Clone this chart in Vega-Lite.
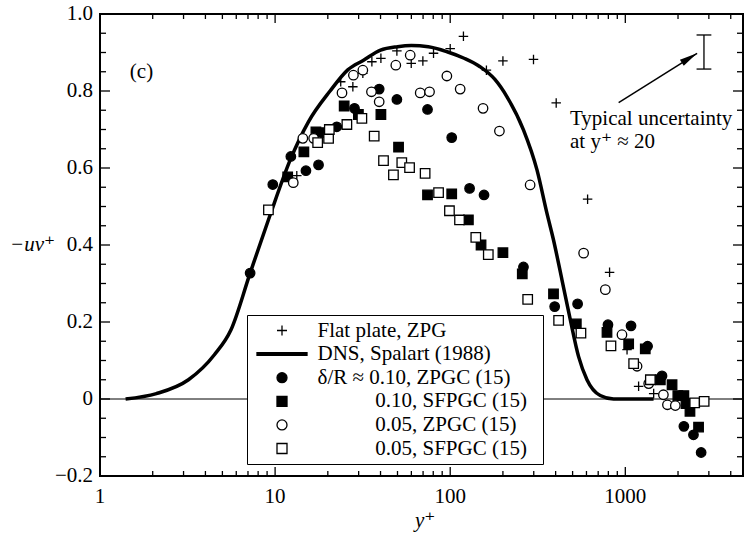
{
  "$schema": "https://vega.github.io/schema/vega-lite/v6.json",
  "width": 643,
  "height": 462,
  "autosize": "none",
  "padding": {"left": 100, "top": 14, "right": 1, "bottom": 60},
  "config": {
    "view": {"stroke": "black", "strokeWidth": 2},
    "font": "Liberation Serif, Times New Roman, DejaVu Serif, serif",
    "axis": {"grid": false, "ticks": false, "domain": false},
    "legend": {"labelFont": "Liberation Serif, Times New Roman, DejaVu Serif, serif", "labelFontSize": 21, "labelColor": "black"}
  },
  "datasets": {
    "dns": [
      {"x": 1.4, "y": 0.0}, {"x": 2.1, "y": 0.014}, {"x": 3.2, "y": 0.05}, {"x": 4.5, "y": 0.115},
      {"x": 5.6, "y": 0.18}, {"x": 7.2, "y": 0.327}, {"x": 9.3, "y": 0.474}, {"x": 12.2, "y": 0.621},
      {"x": 15.5, "y": 0.72}, {"x": 20.6, "y": 0.8}, {"x": 26, "y": 0.855}, {"x": 32, "y": 0.88},
      {"x": 40, "y": 0.906}, {"x": 50, "y": 0.915}, {"x": 60, "y": 0.918}, {"x": 75, "y": 0.915},
      {"x": 96, "y": 0.902}, {"x": 120, "y": 0.885}, {"x": 148, "y": 0.863}, {"x": 180, "y": 0.83},
      {"x": 211, "y": 0.785}, {"x": 262, "y": 0.699}, {"x": 313, "y": 0.595}, {"x": 357, "y": 0.482},
      {"x": 389, "y": 0.413}, {"x": 435, "y": 0.309}, {"x": 485, "y": 0.206}, {"x": 541, "y": 0.11},
      {"x": 604, "y": 0.05}, {"x": 719, "y": 0.009}, {"x": 857, "y": 0.0}, {"x": 1450, "y": 0.0}
    ],
    "pts": [
      {"s": "a", "x": 13.3, "y": 0.58}, {"s": "a", "x": 23.7, "y": 0.824}, {"s": "a", "x": 27.8, "y": 0.811},
      {"s": "a", "x": 31.7, "y": 0.846}, {"s": "a", "x": 35.7, "y": 0.876}, {"s": "a", "x": 40.2, "y": 0.885},
      {"s": "a", "x": 49.6, "y": 0.904}, {"s": "a", "x": 59.9, "y": 0.872}, {"s": "a", "x": 69.8, "y": 0.878},
      {"s": "a", "x": 80.3, "y": 0.898}, {"s": "a", "x": 100, "y": 0.91}, {"s": "a", "x": 119, "y": 0.942},
      {"s": "a", "x": 161, "y": 0.854}, {"s": "a", "x": 200, "y": 0.878}, {"s": "a", "x": 299, "y": 0.882},
      {"s": "a", "x": 403, "y": 0.769}, {"s": "a", "x": 609, "y": 0.519}, {"s": "a", "x": 813, "y": 0.329},
      {"s": "a", "x": 1023, "y": 0.128}, {"s": "a", "x": 1191, "y": 0.033}, {"s": "a", "x": 1452, "y": 0.014},

      {"s": "c", "x": 7.2, "y": 0.327}, {"s": "c", "x": 9.7, "y": 0.557}, {"s": "c", "x": 12.3, "y": 0.63},
      {"s": "c", "x": 15.0, "y": 0.593}, {"s": "c", "x": 17.7, "y": 0.608}, {"s": "c", "x": 22.5, "y": 0.707},
      {"s": "c", "x": 28.4, "y": 0.755}, {"s": "c", "x": 39.3, "y": 0.805}, {"s": "c", "x": 49.6, "y": 0.778},
      {"s": "c", "x": 74.2, "y": 0.752}, {"s": "c", "x": 102, "y": 0.679}, {"s": "c", "x": 129, "y": 0.547},
      {"s": "c", "x": 156, "y": 0.53}, {"s": "c", "x": 262, "y": 0.343}, {"s": "c", "x": 395, "y": 0.24},
      {"s": "c", "x": 534, "y": 0.247}, {"s": "c", "x": 796, "y": 0.193}, {"s": "c", "x": 1078, "y": 0.19},
      {"s": "c", "x": 1340, "y": 0.137}, {"s": "c", "x": 1620, "y": 0.06}, {"s": "c", "x": 2160, "y": -0.071},
      {"s": "c", "x": 2450, "y": -0.093}, {"s": "c", "x": 2710, "y": -0.139},

      {"s": "d", "x": 11.8, "y": 0.577}, {"s": "d", "x": 14.6, "y": 0.642}, {"s": "d", "x": 17.1, "y": 0.694},
      {"s": "d", "x": 19.3, "y": 0.692}, {"s": "d", "x": 24.8, "y": 0.761}, {"s": "d", "x": 29.9, "y": 0.739},
      {"s": "d", "x": 40.2, "y": 0.739}, {"s": "d", "x": 50.7, "y": 0.654}, {"s": "d", "x": 74.2, "y": 0.53},
      {"s": "d", "x": 102, "y": 0.533}, {"s": "d", "x": 127, "y": 0.465}, {"s": "d", "x": 150, "y": 0.4},
      {"s": "d", "x": 200, "y": 0.38}, {"s": "d", "x": 258, "y": 0.325}, {"s": "d", "x": 389, "y": 0.273},
      {"s": "d", "x": 525, "y": 0.195}, {"s": "d", "x": 786, "y": 0.173}, {"s": "d", "x": 1045, "y": 0.143},
      {"s": "d", "x": 1300, "y": 0.13}, {"s": "d", "x": 1585, "y": 0.05}, {"s": "d", "x": 1849, "y": 0.037},
      {"s": "d", "x": 1995, "y": 0.009}, {"s": "d", "x": 2160, "y": 0.009}, {"s": "d", "x": 2220, "y": -0.012},
      {"s": "d", "x": 2340, "y": -0.032}, {"s": "d", "x": 2620, "y": -0.073},

      {"s": "e", "x": 12.7, "y": 0.562}, {"s": "e", "x": 14.4, "y": 0.677}, {"s": "e", "x": 16.6, "y": 0.677},
      {"s": "e", "x": 24.1, "y": 0.795}, {"s": "e", "x": 28.0, "y": 0.841}, {"s": "e", "x": 31.7, "y": 0.854},
      {"s": "e", "x": 35.5, "y": 0.798}, {"s": "e", "x": 39.3, "y": 0.772}, {"s": "e", "x": 48.9, "y": 0.867},
      {"s": "e", "x": 59.1, "y": 0.893}, {"s": "e", "x": 67.4, "y": 0.795}, {"s": "e", "x": 76.2, "y": 0.798},
      {"s": "e", "x": 95.7, "y": 0.839}, {"s": "e", "x": 114, "y": 0.805}, {"s": "e", "x": 154, "y": 0.755},
      {"s": "e", "x": 191, "y": 0.696}, {"s": "e", "x": 286, "y": 0.556}, {"s": "e", "x": 578, "y": 0.379},
      {"s": "e", "x": 769, "y": 0.284}, {"s": "e", "x": 957, "y": 0.167}, {"s": "e", "x": 1167, "y": 0.085},
      {"s": "e", "x": 1360, "y": 0.04}, {"s": "e", "x": 1650, "y": 0.011}, {"s": "e", "x": 1740, "y": -0.015},
      {"s": "e", "x": 1930, "y": -0.017},

      {"s": "f", "x": 9.16, "y": 0.491}, {"s": "f", "x": 17.5, "y": 0.666}, {"s": "f", "x": 20.2, "y": 0.677},
      {"s": "f", "x": 20.4, "y": 0.7}, {"s": "f", "x": 25.7, "y": 0.713}, {"s": "f", "x": 31.3, "y": 0.729},
      {"s": "f", "x": 36.8, "y": 0.683}, {"s": "f", "x": 41.6, "y": 0.619}, {"s": "f", "x": 47.4, "y": 0.582},
      {"s": "f", "x": 52.9, "y": 0.614}, {"s": "f", "x": 58.6, "y": 0.601}, {"s": "f", "x": 71.9, "y": 0.586},
      {"s": "f", "x": 85.8, "y": 0.536}, {"s": "f", "x": 99, "y": 0.489}, {"s": "f", "x": 113, "y": 0.465},
      {"s": "f", "x": 140, "y": 0.42}, {"s": "f", "x": 165, "y": 0.375}, {"s": "f", "x": 277, "y": 0.259},
      {"s": "f", "x": 416, "y": 0.204}, {"s": "f", "x": 558, "y": 0.171}, {"s": "f", "x": 828, "y": 0.138},
      {"s": "f", "x": 1116, "y": 0.092}, {"s": "f", "x": 1390, "y": 0.05}, {"s": "f", "x": 2490, "y": -0.01},
      {"s": "f", "x": 2820, "y": -0.006}
    ],
    "xmaj": [{"v": 1, "t": "1"}, {"v": 10, "t": "10"}, {"v": 100, "t": "100"}, {"v": 1000, "t": "1000"}],
    "xmin": [{"v": 2}, {"v": 3}, {"v": 4}, {"v": 5}, {"v": 6}, {"v": 7}, {"v": 8}, {"v": 9},
             {"v": 20}, {"v": 30}, {"v": 40}, {"v": 50}, {"v": 60}, {"v": 70}, {"v": 80}, {"v": 90},
             {"v": 200}, {"v": 300}, {"v": 400}, {"v": 500}, {"v": 600}, {"v": 700}, {"v": 800}, {"v": 900},
             {"v": 2000}, {"v": 3000}, {"v": 4000}],
    "ymaj": [{"v": -0.2, "t": "−0.2"}, {"v": 0, "t": "0"}, {"v": 0.2, "t": "0.2"}, {"v": 0.4, "t": "0.4"},
             {"v": 0.6, "t": "0.6"}, {"v": 0.8, "t": "0.8"}, {"v": 1.0, "t": "1.0"}],
    "ymin": [{"v": -0.15}, {"v": -0.1}, {"v": -0.05}, {"v": 0.05}, {"v": 0.1}, {"v": 0.15},
             {"v": 0.25}, {"v": 0.3}, {"v": 0.35}, {"v": 0.45}, {"v": 0.5}, {"v": 0.55},
             {"v": 0.65}, {"v": 0.7}, {"v": 0.75}, {"v": 0.85}, {"v": 0.9}, {"v": 0.95}],
    "titles": [
      {"x": 72, "y": -0.2, "t": "y⁺", "side": "x"},
      {"x": 1, "y": 0.4, "t": "−uv⁺", "side": "y"}
    ],
    "err": [{"x": 2813, "lo": 0.857, "hi": 0.9455}],
    "caps": [{"x1": 2552, "x2": 3100, "y": 0.857}, {"x1": 2552, "x2": 3100, "y": 0.9455}],
    "arrow": [{"x": 916, "y": 0.7696, "x2": 2570, "y2": 0.898}],
    "notes": [
      {"x": 483, "y": 0.712, "t": "Typical uncertainty"},
      {"x": 483, "y": 0.652, "t": "at y⁺ ≈ 20"},
      {"x": 1.48, "y": 0.834, "t": "(c)"}
    ]
  },
  "layer": [
    {
      "data": {"name": "dns"},
      "mark": {"type": "line", "color": "black", "strokeWidth": 3.5, "interpolate": "monotone"},
      "encoding": {
        "x": {"field": "x", "type": "quantitative", "scale": {"type": "log", "domain": [1, 4700], "nice": false}, "axis": null},
        "y": {"field": "y", "type": "quantitative", "scale": {"domain": [-0.2, 1.0], "nice": false, "zero": false}, "axis": null}
      }
    },
    {
      "data": {"values": [{}]},
      "mark": {"type": "rule", "color": "black", "strokeWidth": 1},
      "encoding": {"y": {"datum": 0, "type": "quantitative", "axis": null}}
    },
    {
      "data": {"name": "xmaj"},
      "mark": {"type": "tick", "orient": "vertical", "size": 18, "thickness": 1.3, "color": "black", "opacity": 1, "clip": true},
      "encoding": {"x": {"field": "v", "type": "quantitative", "axis": null}, "y": {"datum": -0.2, "type": "quantitative", "axis": null}}
    },
    {
      "data": {"name": "xmaj"},
      "mark": {"type": "tick", "orient": "vertical", "size": 18, "thickness": 1.3, "color": "black", "opacity": 1, "clip": true},
      "encoding": {"x": {"field": "v", "type": "quantitative", "axis": null}, "y": {"datum": 1.0, "type": "quantitative", "axis": null}}
    },
    {
      "data": {"name": "xmin"},
      "mark": {"type": "tick", "orient": "vertical", "size": 10, "thickness": 1.3, "color": "black", "opacity": 1, "clip": true},
      "encoding": {"x": {"field": "v", "type": "quantitative", "axis": null}, "y": {"datum": -0.2, "type": "quantitative", "axis": null}}
    },
    {
      "data": {"name": "xmin"},
      "mark": {"type": "tick", "orient": "vertical", "size": 10, "thickness": 1.3, "color": "black", "opacity": 1, "clip": true},
      "encoding": {"x": {"field": "v", "type": "quantitative", "axis": null}, "y": {"datum": 1.0, "type": "quantitative", "axis": null}}
    },
    {
      "data": {"name": "ymaj"},
      "mark": {"type": "tick", "orient": "horizontal", "size": 20, "thickness": 1.3, "color": "black", "opacity": 1, "clip": true},
      "encoding": {"y": {"field": "v", "type": "quantitative", "axis": null}, "x": {"datum": 1, "type": "quantitative", "axis": null}}
    },
    {
      "data": {"name": "ymaj"},
      "mark": {"type": "tick", "orient": "horizontal", "size": 20, "thickness": 1.3, "color": "black", "opacity": 1, "clip": true},
      "encoding": {"y": {"field": "v", "type": "quantitative", "axis": null}, "x": {"datum": 4700, "type": "quantitative", "axis": null}}
    },
    {
      "data": {"name": "ymin"},
      "mark": {"type": "tick", "orient": "horizontal", "size": 12, "thickness": 1.3, "color": "black", "opacity": 1, "clip": true},
      "encoding": {"y": {"field": "v", "type": "quantitative", "axis": null}, "x": {"datum": 1, "type": "quantitative", "axis": null}}
    },
    {
      "data": {"name": "ymin"},
      "mark": {"type": "tick", "orient": "horizontal", "size": 12, "thickness": 1.3, "color": "black", "opacity": 1, "clip": true},
      "encoding": {"y": {"field": "v", "type": "quantitative", "axis": null}, "x": {"datum": 4700, "type": "quantitative", "axis": null}}
    },
    {
      "data": {"name": "xmaj"},
      "mark": {"type": "text", "align": "center", "baseline": "top", "dy": 10, "font": "Liberation Serif, Times New Roman, DejaVu Serif, serif", "fontSize": 21, "color": "black"},
      "encoding": {
        "x": {"field": "v", "type": "quantitative", "axis": null},
        "y": {"datum": -0.2, "type": "quantitative", "axis": null},
        "text": {"field": "t"}
      }
    },
    {
      "data": {"name": "ymaj"},
      "mark": {"type": "text", "align": "right", "baseline": "middle", "dx": -7, "font": "Liberation Serif, Times New Roman, DejaVu Serif, serif", "fontSize": 21, "color": "black"},
      "encoding": {
        "x": {"datum": 1, "type": "quantitative", "axis": null},
        "y": {"field": "v", "type": "quantitative", "axis": null},
        "text": {"field": "t"}
      }
    },
    {
      "data": {"name": "titles"},
      "transform": [{"filter": "datum.side == 'x'"}],
      "mark": {"type": "text", "align": "center", "baseline": "alphabetic", "dy": 51, "fontStyle": "italic", "font": "Liberation Serif, Times New Roman, DejaVu Serif, serif", "fontSize": 21, "color": "black"},
      "encoding": {
        "x": {"field": "x", "type": "quantitative", "axis": null},
        "y": {"field": "y", "type": "quantitative", "axis": null},
        "text": {"field": "t"}
      }
    },
    {
      "data": {"name": "titles"},
      "transform": [{"filter": "datum.side == 'y'"}],
      "mark": {"type": "text", "align": "left", "baseline": "middle", "dx": -90, "fontStyle": "italic", "font": "Liberation Serif, Times New Roman, DejaVu Serif, serif", "fontSize": 21, "color": "black"},
      "encoding": {
        "x": {"field": "x", "type": "quantitative", "axis": null},
        "y": {"field": "y", "type": "quantitative", "axis": null},
        "text": {"field": "t"}
      }
    },
    {
      "data": {"name": "pts"},
      "mark": {"type": "point", "size": 90, "stroke": "black", "strokeWidth": 1.3, "opacity": 1},
      "encoding": {
        "x": {"field": "x", "type": "quantitative", "axis": null},
        "y": {"field": "y", "type": "quantitative", "axis": null},
        "shape": {
          "field": "s", "type": "nominal",
          "scale": {"domain": ["a","b","c","d","e","f"], "range": ["M-1,0H1M0,-1V1", "M-5,-0.27H5V0.27H-5Z", "circle", "square", "circle", "square"]},
          "legend": {
            "title": null, "orient": "none", "legendX": 147, "legendY": 301,
            "padding": 5, "strokeColor": "black", "fillColor": "white", "cornerRadius": 0,
            "symbolOffset": 19.5, "labelOffset": 25, "rowPadding": 1.6, "labelLimit": 400, "symbolStrokeWidth": 1.3,
            "labelExpr": "datum.value == 'a' ? 'Flat plate, ZPG' : datum.value == 'b' ? 'DNS, Spalart (1988)' : datum.value == 'c' ? 'δ/R ≈ 0.10, ZPGC (15)' : datum.value == 'd' ? '\u2060\u00a0\u00a0\u00a0\u00a0\u00a0\u00a0\u00a0\u00a0\u00a0\u00a0\u00a00.10, SFPGC (15)' : datum.value == 'e' ? '\u2060\u00a0\u00a0\u00a0\u00a0\u00a0\u00a0\u00a0\u00a0\u00a0\u00a0\u00a00.05, ZPGC (15)' : '\u2060\u00a0\u00a0\u00a0\u00a0\u00a0\u00a0\u00a0\u00a0\u00a0\u00a0\u00a00.05, SFPGC (15)\u00a0\u00a0\u2060'"
          }
        },
        "fill": {
          "field": "s", "type": "nominal",
          "scale": {"domain": ["a","b","c","d","e","f"], "range": ["transparent", "black", "black", "black", "white", "white"]},
          "legend": {
            "title": null, "orient": "none", "legendX": 147, "legendY": 301,
            "padding": 5, "strokeColor": "black", "fillColor": "white", "cornerRadius": 0,
            "symbolOffset": 19.5, "labelOffset": 25, "rowPadding": 1.6, "labelLimit": 400, "symbolStrokeWidth": 1.3,
            "labelExpr": "datum.value == 'a' ? 'Flat plate, ZPG' : datum.value == 'b' ? 'DNS, Spalart (1988)' : datum.value == 'c' ? 'δ/R ≈ 0.10, ZPGC (15)' : datum.value == 'd' ? '\u2060\u00a0\u00a0\u00a0\u00a0\u00a0\u00a0\u00a0\u00a0\u00a0\u00a0\u00a00.10, SFPGC (15)' : datum.value == 'e' ? '\u2060\u00a0\u00a0\u00a0\u00a0\u00a0\u00a0\u00a0\u00a0\u00a0\u00a0\u00a00.05, ZPGC (15)' : '\u2060\u00a0\u00a0\u00a0\u00a0\u00a0\u00a0\u00a0\u00a0\u00a0\u00a0\u00a00.05, SFPGC (15)\u00a0\u00a0\u2060'"
          }
        },
        "stroke": {
          "field": "s", "type": "nominal",
          "scale": {"domain": ["a","b","c","d","e","f"], "range": ["black", "black", "black", "black", "black", "black"]},
          "legend": {
            "title": null, "orient": "none", "legendX": 147, "legendY": 301,
            "padding": 5, "strokeColor": "black", "fillColor": "white", "cornerRadius": 0,
            "symbolOffset": 19.5, "labelOffset": 25, "rowPadding": 1.6, "labelLimit": 400, "symbolStrokeWidth": 1.3,
            "labelExpr": "datum.value == 'a' ? 'Flat plate, ZPG' : datum.value == 'b' ? 'DNS, Spalart (1988)' : datum.value == 'c' ? 'δ/R ≈ 0.10, ZPGC (15)' : datum.value == 'd' ? '\u2060\u00a0\u00a0\u00a0\u00a0\u00a0\u00a0\u00a0\u00a0\u00a0\u00a0\u00a00.10, SFPGC (15)' : datum.value == 'e' ? '\u2060\u00a0\u00a0\u00a0\u00a0\u00a0\u00a0\u00a0\u00a0\u00a0\u00a0\u00a00.05, ZPGC (15)' : '\u2060\u00a0\u00a0\u00a0\u00a0\u00a0\u00a0\u00a0\u00a0\u00a0\u00a0\u00a00.05, SFPGC (15)\u00a0\u00a0\u2060'"
          }
        }
      }
    },
    {
      "data": {"name": "err"},
      "mark": {"type": "rule", "color": "black", "strokeWidth": 1.3},
      "encoding": {
        "x": {"field": "x", "type": "quantitative", "axis": null},
        "y": {"field": "lo", "type": "quantitative", "axis": null},
        "y2": {"field": "hi"}
      }
    },
    {
      "data": {"name": "caps"},
      "mark": {"type": "rule", "color": "black", "strokeWidth": 1.3},
      "encoding": {
        "x": {"field": "x1", "type": "quantitative", "axis": null},
        "x2": {"field": "x2"},
        "y": {"field": "y", "type": "quantitative", "axis": null}
      }
    },
    {
      "data": {"name": "arrow"},
      "mark": {"type": "rule", "color": "black", "strokeWidth": 1.5},
      "encoding": {
        "x": {"field": "x", "type": "quantitative", "axis": null},
        "y": {"field": "y", "type": "quantitative", "axis": null},
        "x2": {"field": "x2"},
        "y2": {"field": "y2"}
      }
    },
    {
      "data": {"name": "arrow"},
      "mark": {"type": "point", "shape": "M0,0L0.4,2L-0.4,2Z", "size": 324, "filled": true, "color": "black", "opacity": 1, "angle": 58},
      "encoding": {
        "x": {"field": "x2", "type": "quantitative", "axis": null},
        "y": {"field": "y2", "type": "quantitative", "axis": null}
      }
    },
    {
      "data": {"name": "notes"},
      "mark": {"type": "text", "align": "left", "baseline": "alphabetic", "font": "Liberation Serif, Times New Roman, DejaVu Serif, serif", "fontSize": 21, "color": "black"},
      "encoding": {
        "x": {"field": "x", "type": "quantitative", "axis": null},
        "y": {"field": "y", "type": "quantitative", "axis": null},
        "text": {"field": "t"}
      }
    }
  ]
}
